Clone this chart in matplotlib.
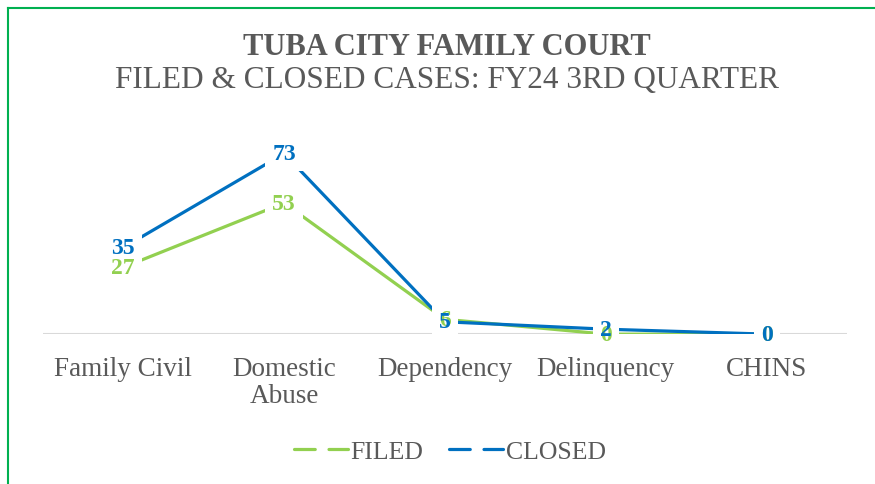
import matplotlib
matplotlib.use("Agg")
import matplotlib.pyplot as plt
from matplotlib.lines import Line2D

categories = ["Family Civil", "Domestic\nAbuse", "Dependency", "Delinquency", "CHINS"]
filed = [27, 53, 6, 0, 0]
closed = [35, 73, 5, 2, 0]

GREEN = "#92D050"
BLUE = "#0070C0"
GRAY = "#595959"
SERIF = ["Liberation Serif", "DejaVu Serif"]

plt.rcParams['font.family'] = SERIF

fig = plt.figure(figsize=(8.75, 4.85), dpi=100)
ax = fig.add_axes([0.049, 0.309, 0.919, 0.408])

x = list(range(len(categories)))
ax.plot(x, filed, color=GREEN, lw=2.3, zorder=2, solid_capstyle='butt')
ax.plot(x, closed, color=BLUE, lw=2.3, zorder=2, solid_capstyle='butt')

# white boxes behind labels first, then the label text on top
for series, col in [(filed, GREEN), (closed, BLUE)]:
    for xi, v in zip(x, series):
        ax.text(xi, v, str(v), ha='center', va='center', fontsize=17, fontweight='bold',
                color='none', zorder=3,
                bbox=dict(boxstyle='square,pad=0.3', fc='white', ec='none'))
for series, col in [(filed, GREEN), (closed, BLUE)]:
    for xi, v in zip(x, series):
        ax.text(xi, v, str(v), ha='center', va='center', fontsize=17, fontweight='bold',
                color=col, zorder=4)

ax.set_xlim(-0.5, len(categories) - 0.5)
ax.set_ylim(0, 80)
ax.axhline(0, color="#D9D9D9", lw=1.5, zorder=1)
for s in ax.spines.values():
    s.set_visible(False)
ax.set_yticks([])
ax.set_xticks(x)
ax.set_xticklabels(categories, fontsize=19.5, color=GRAY, linespacing=1.1)
ax.tick_params(axis='x', length=0, pad=16)
ax.patch.set_alpha(0)

fig.text(0.511, 0.902, "TUBA CITY FAMILY COURT", ha='center', va='center',
         fontsize=22, fontweight='bold', color=GRAY)
fig.text(0.511, 0.833, "FILED & CLOSED CASES: FY24 3RD QUARTER", ha='center', va='center',
         fontsize=22.5, color=GRAY)

handles = [Line2D([], [], color=GREEN, lw=2.3, dashes=(6.5, 4.3), dash_capstyle='round'),
           Line2D([], [], color=BLUE, lw=2.3, dashes=(6.5, 4.3), dash_capstyle='round')]
fig.legend(handles, ["FILED", "CLOSED"], loc='center', bbox_to_anchor=(0.514, 0.068),
           ncol=2, frameon=False, fontsize=18.5, handlelength=2.1, handletextpad=0.1,
           columnspacing=1.0, labelcolor=GRAY)

# green frame (top and left edge visible)
fig.add_artist(Line2D([8 / 875, 8 / 875], [0, 1 - 9 / 485], transform=fig.transFigure,
                      color="#00B050", lw=1.5))
fig.add_artist(Line2D([8 / 875, 1], [1 - 9 / 485, 1 - 9 / 485], transform=fig.transFigure,
                      color="#00B050", lw=1.5))

fig.savefig("out.png", dpi=100)
